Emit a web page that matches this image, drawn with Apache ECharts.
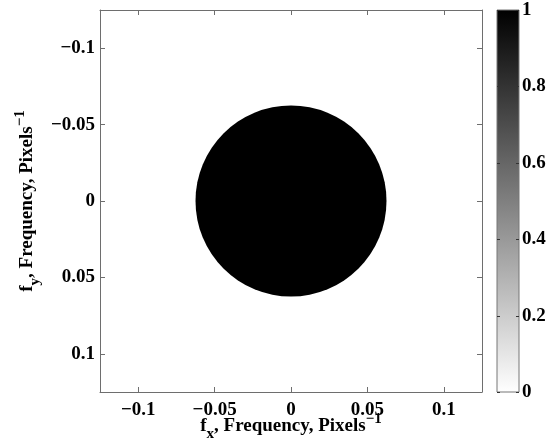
<!DOCTYPE html>
<html>
<head>
<meta charset="utf-8">
<script src="https://cdn.jsdelivr.net/npm/echarts@6/dist/echarts.min.js"></script>
<style>
  html, body { margin: 0; padding: 0; background: #fff; }
  #chart { width: 546px; height: 441px; }
</style>
</head>
<body>
<div id="chart"></div>
<script>
// Frequency window shown on both axes (cycles per pixel)
const freqRange = [-0.125, 0.125];
const freqTicks = [-0.1, -0.05, 0, 0.05, 0.1];
// Ideal low-pass mask: centre (fx, fy) and cutoff radius, value 1 inside
const passBand = [[0, 0, 0.0625]];
// Colour bar scale
const levelRange = [0, 1];
const levelTicks = [0, 0.2, 0.4, 0.6, 0.8, 1];

const serif = 'Liberation Serif';
const axisGray = '#6e6e6e';
const fmt = v => String(v).replace('-', '\u2212');

const nameRich = {
  b: { fontFamily: serif, fontWeight: 'bold', fontSize: 19, color: '#000' },
  sub: { fontFamily: serif, fontWeight: 'bold', fontSize: 15, color: '#000', padding: [16, 0, 0, 0] },
  sup: { fontFamily: serif, fontWeight: 'bold', fontSize: 15, color: '#000', padding: [0, 0, 14, 0] }
};

const tickFont = { fontFamily: serif, fontWeight: 'bold', fontSize: 19, color: '#000' };

function freqAxis(extra) {
  return Object.assign({
    type: 'value',
    min: freqRange[0],
    max: freqRange[1],
    z: 5,
    nameMoveOverlap: false,
    axisLine: { show: true, onZero: false, lineStyle: { color: axisGray, width: 1 } },
    axisTick: { show: true, inside: true, length: 5, customValues: freqTicks, lineStyle: { color: axisGray } },
    axisLabel: Object.assign({ show: true, customValues: freqTicks, formatter: fmt }, tickFont),
    splitLine: { show: false }
  }, extra);
}

const chart = echarts.init(document.getElementById('chart'), null, { renderer: 'canvas' });
chart.setOption({
  animation: false,
  backgroundColor: '#fff',
  grid: [
    { left: 100, top: 10, width: 382, height: 382, outerBoundsMode: 'none', containLabel: false },
    { left: 497, top: 10, width: 22, height: 382, outerBoundsMode: 'none', containLabel: false }
  ],
  xAxis: [
    freqAxis({ gridIndex: 0, position: 'bottom',
      axisLabel: Object.assign({ customValues: freqTicks, formatter: fmt, margin: 9 }, tickFont),
      name: '{b|f}{sub|x}{b|, Frequency, Pixels}{sup|\u22121}',
      nameLocation: 'middle', nameGap: 19,
      nameTextStyle: { rich: nameRich } }),
    freqAxis({ gridIndex: 0, position: 'top', axisLabel: { show: false } }),
    { type: 'value', gridIndex: 1, min: 0, max: 1, show: false }
  ],
  yAxis: [
    freqAxis({ gridIndex: 0, position: 'left', inverse: true,
      axisLabel: Object.assign({ customValues: freqTicks, formatter: fmt, margin: 5 }, tickFont),
      name: '{b|f}{sub|y}{b|, Frequency, Pixels}{sup|\u22121}',
      nameLocation: 'middle', nameGap: 57, nameRotate: 90,
      nameTextStyle: { rich: nameRich } }),
    freqAxis({ gridIndex: 0, position: 'right', inverse: true, axisLabel: { show: false } }),
    {
      type: 'value', gridIndex: 1, position: 'right',
      min: levelRange[0], max: levelRange[1],
      axisLine: { show: false },
      axisTick: { show: false },
      axisLabel: Object.assign({ show: true, customValues: levelTicks, margin: 3 }, tickFont),
      splitLine: { show: false }
    }
  ],
  series: [
    {
      type: 'custom',
      xAxisIndex: 0, yAxisIndex: 0,
      data: passBand,
      clip: true,
      z: 1,
      renderItem: function (params, api) {
        const c = api.coord([api.value(0), api.value(1)]);
        const e = api.coord([api.value(0) + api.value(2), api.value(1)]);
        return {
          type: 'circle',
          shape: { cx: c[0], cy: c[1], r: Math.abs(e[0] - c[0]) },
          style: { fill: '#000' }
        };
      }
    },
    {
      // colour bar: gradient strip plus inward ticks on both edges
      type: 'custom',
      xAxisIndex: 2, yAxisIndex: 2,
      data: [[0, levelRange[0], 1, levelRange[1]]],
      z: 1,
      renderItem: function (params, api) {
        const p0 = api.coord([api.value(0), api.value(3)]);
        const p1 = api.coord([api.value(2), api.value(1)]);
        const children = [{
          type: 'rect',
          shape: { x: p0[0], y: p0[1], width: p1[0] - p0[0], height: p1[1] - p0[1] },
          style: {
            fill: new echarts.graphic.LinearGradient(0, 0, 0, 1, [
              { offset: 0, color: '#000' },
              { offset: 1, color: '#fff' }
            ]),
            stroke: '#777',
            lineWidth: 1
          }
        }];
        levelTicks.forEach(function (t) {
          const y = Math.round(api.coord([0, t])[1]) + 0.5;
          children.push({ type: 'line', shape: { x1: p0[0], y1: y, x2: p0[0] + 3, y2: y },
            style: { stroke: '#333', lineWidth: 1 } });
          children.push({ type: 'line', shape: { x1: p1[0] - 3, y1: y, x2: p1[0], y2: y },
            style: { stroke: '#333', lineWidth: 1 } });
        });
        return { type: 'group', children: children };
      }
    }
  ]
});
</script>
</body>
</html>
